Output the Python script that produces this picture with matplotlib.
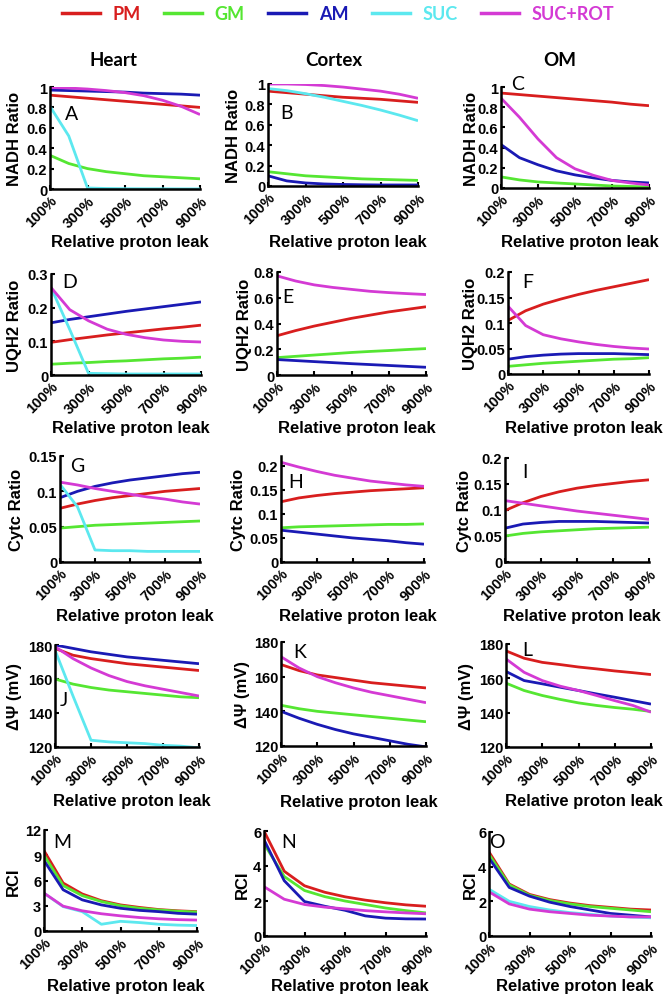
import matplotlib
matplotlib.use('Agg')
import matplotlib.pyplot as plt
from matplotlib.lines import Line2D
from matplotlib.ticker import FixedLocator, FuncFormatter
from matplotlib.font_manager import FontProperties

W, H = 672, 1003

leak = [100, 200, 300, 400, 500, 600, 700, 800, 900]
xtick_vals = [100, 300, 500, 700, 900]
xtick_labels = ['100%', '300%', '500%', '700%', '900%']
series = ['PM', 'GM', 'AM', 'SUC', 'SUC+ROT']
colors = {'PM': '#d81e1e', 'GM': '#55e632', 'AM': '#1a1ab4',
          'SUC': '#5ce8ef', 'SUC+ROT': '#d43ad4'}
tissues = ['Heart', 'Cortex', 'OM']

# ---- NADH ratio ----
heart_nadh = {
    'PM': [0.92, 0.905, 0.89, 0.875, 0.86, 0.845, 0.83, 0.815, 0.80],
    'GM': [0.33, 0.25, 0.20, 0.17, 0.15, 0.13, 0.12, 0.11, 0.10],
    'AM': [0.97, 0.965, 0.96, 0.955, 0.95, 0.94, 0.935, 0.93, 0.92],
    'SUC': [0.81, 0.52, 0.01, 0.005, 0.003, 0.002, 0.002, 0.001, 0.001],
    'SUC+ROT': [0.995, 0.99, 0.98, 0.965, 0.945, 0.915, 0.87, 0.81, 0.73],
}
cortex_nadh = {
    'PM': [0.93, 0.915, 0.90, 0.885, 0.87, 0.86, 0.85, 0.835, 0.82],
    'GM': [0.14, 0.12, 0.10, 0.09, 0.08, 0.07, 0.065, 0.06, 0.055],
    'AM': [0.10, 0.05, 0.03, 0.02, 0.015, 0.012, 0.01, 0.01, 0.01],
    'SUC': [0.955, 0.935, 0.905, 0.87, 0.83, 0.79, 0.745, 0.695, 0.64],
    'SUC+ROT': [1.0, 1.0, 0.995, 0.985, 0.97, 0.95, 0.93, 0.90, 0.86],
}
om_nadh = {
    'PM': [0.94, 0.925, 0.91, 0.895, 0.88, 0.865, 0.85, 0.83, 0.815],
    'GM': [0.11, 0.08, 0.06, 0.05, 0.04, 0.03, 0.02, 0.015, 0.01],
    'AM': [0.43, 0.30, 0.23, 0.17, 0.13, 0.10, 0.075, 0.06, 0.05],
    'SUC+ROT': [0.89, 0.70, 0.485, 0.30, 0.19, 0.125, 0.075, 0.05, 0.03],
}
# ---- UQH2 ratio ----
heart_uqh2 = {
    'PM': [0.097, 0.105, 0.112, 0.119, 0.125, 0.131, 0.137, 0.142, 0.148],
    'GM': [0.032, 0.035, 0.037, 0.040, 0.042, 0.045, 0.048, 0.050, 0.053],
    'AM': [0.155, 0.165, 0.173, 0.181, 0.189, 0.196, 0.203, 0.210, 0.217],
    'SUC': [0.26, 0.135, 0.005, 0.004, 0.003, 0.003, 0.003, 0.003, 0.003],
    'SUC+ROT': [0.26, 0.194, 0.161, 0.136, 0.121, 0.111, 0.104, 0.100, 0.098],
}
cortex_uqh2 = {
    'PM': [0.305, 0.345, 0.38, 0.41, 0.44, 0.465, 0.49, 0.51, 0.53],
    'GM': [0.135, 0.145, 0.155, 0.165, 0.175, 0.183, 0.19, 0.198, 0.205],
    'AM': [0.12, 0.112, 0.104, 0.096, 0.088, 0.081, 0.074, 0.067, 0.06],
    'SUC+ROT': [0.77, 0.73, 0.70, 0.68, 0.665, 0.65, 0.64, 0.632, 0.625],
}
om_uqh2 = {
    'PM': [0.105, 0.124, 0.137, 0.147, 0.156, 0.164, 0.171, 0.178, 0.185],
    'GM': [0.015, 0.018, 0.021, 0.023, 0.025, 0.027, 0.029, 0.030, 0.032],
    'AM': [0.029, 0.034, 0.037, 0.039, 0.040, 0.040, 0.040, 0.039, 0.038],
    'SUC+ROT': [0.133, 0.095, 0.077, 0.069, 0.063, 0.058, 0.054, 0.051, 0.049],
}
# ---- Cytc ratio ----
heart_cytc = {
    'PM': [0.076, 0.082, 0.087, 0.091, 0.094, 0.097, 0.100, 0.102, 0.104],
    'GM': [0.048, 0.050, 0.052, 0.053, 0.054, 0.055, 0.056, 0.057, 0.058],
    'AM': [0.091, 0.100, 0.107, 0.112, 0.116, 0.119, 0.122, 0.125, 0.127],
    'SUC': [0.110, 0.078, 0.017, 0.016, 0.016, 0.015, 0.015, 0.015, 0.015],
    'SUC+ROT': [0.113, 0.109, 0.104, 0.100, 0.096, 0.092, 0.089, 0.085, 0.082],
}
cortex_cytc = {
    'PM': [0.125, 0.133, 0.138, 0.142, 0.145, 0.148, 0.150, 0.152, 0.154],
    'GM': [0.071, 0.073, 0.074, 0.075, 0.076, 0.077, 0.078, 0.078, 0.079],
    'AM': [0.066, 0.062, 0.058, 0.054, 0.050, 0.047, 0.044, 0.040, 0.037],
    'SUC+ROT': [0.207, 0.197, 0.188, 0.180, 0.174, 0.168, 0.164, 0.160, 0.157],
}
om_cytc = {
    'PM': [0.099, 0.114, 0.126, 0.135, 0.142, 0.147, 0.151, 0.155, 0.158],
    'GM': [0.050, 0.055, 0.058, 0.060, 0.062, 0.064, 0.065, 0.066, 0.067],
    'AM': [0.065, 0.073, 0.076, 0.078, 0.078, 0.078, 0.077, 0.076, 0.075],
    'SUC+ROT': [0.118, 0.113, 0.108, 0.103, 0.098, 0.094, 0.090, 0.086, 0.082],
}
# ---- membrane potential (mV) ----
heart_dpsi = {
    'PM': [178, 174, 172, 170.5, 169, 168, 167, 166, 165],
    'GM': [160, 157, 155, 153.5, 152.5, 151.5, 150.5, 149.5, 149],
    'AM': [180, 178, 176, 174.5, 173, 172, 171, 170, 169],
    'SUC': [177, 150, 124, 123, 122.5, 122, 121, 120.5, 119.5],
    'SUC+ROT': [179, 172, 166.5, 162, 158.5, 156, 154, 152, 150],
}
cortex_dpsi = {
    'PM': [167, 163.5, 161, 159.5, 158, 156.5, 155.5, 154.5, 153.5],
    'GM': [143.5, 141.5, 140, 139, 138, 137, 136, 135, 134],
    'AM': [140, 136, 132.5, 129.5, 127, 125, 123, 121, 119.5],
    'SUC+ROT': [171.5, 165, 160, 156.5, 153.5, 151, 149, 147, 145],
}
om_dpsi = {
    'PM': [176, 171.7, 169.3, 168, 166.6, 165.5, 164.3, 163.3, 162.2],
    'GM': [157.2, 152.9, 150, 147.7, 145.7, 144.2, 143, 142, 140.7],
    'AM': [164, 158.7, 156.8, 154.8, 152.9, 150.9, 149, 147, 145],
    'SUC+ROT': [171.3, 163.5, 158.7, 155.4, 152.9, 150, 147, 144.2, 140.3],
}
# ---- RCI ----
heart_rci = {
    'PM': [9.55, 5.7, 4.4, 3.6, 3.1, 2.8, 2.55, 2.4, 2.3],
    'GM': [9.0, 5.4, 4.2, 3.5, 3.0, 2.7, 2.5, 2.35, 2.25],
    'AM': [8.37, 4.9, 3.7, 3.1, 2.7, 2.45, 2.3, 2.1, 2.0],
    'SUC': [4.5, 2.9, 2.3, 0.8, 1.15, 1.0, 0.8, 0.7, 0.65],
    'SUC+ROT': [4.5, 2.95, 2.4, 2.05, 1.8, 1.6, 1.45, 1.35, 1.3],
}
cortex_rci = {
    'PM': [6.0, 3.7, 2.87, 2.5, 2.24, 2.05, 1.9, 1.78, 1.7],
    'GM': [5.27, 3.4, 2.6, 2.25, 2.0, 1.8, 1.6, 1.45, 1.32],
    'AM': [5.5, 3.16, 1.97, 1.7, 1.47, 1.15, 1.02, 0.98, 0.97],
    'SUC+ROT': [2.82, 2.1, 1.8, 1.65, 1.55, 1.45, 1.38, 1.32, 1.27],
}
om_rci = {
    'PM': [4.85, 3.0, 2.4, 2.1, 1.9, 1.75, 1.65, 1.55, 1.5],
    'GM': [4.7, 2.95, 2.35, 2.05, 1.85, 1.7, 1.6, 1.5, 1.4],
    'AM': [4.5, 2.8, 2.3, 1.95, 1.7, 1.5, 1.3, 1.2, 1.1],
    'SUC': [2.7, 2.0, 1.7, 1.5, 1.35, 1.25, 1.15, 1.1, 1.05],
    'SUC+ROT': [2.55, 1.85, 1.55, 1.4, 1.3, 1.2, 1.15, 1.1, 1.1],
}

# panel: letter, data, (left, right, top, bottom) px, ylim, yticks, ylabel, ylabel x px, letter pos px
panels = [
    ('A', heart_nadh, (50, 200, 88, 190), (0, 1), [0, 0.2, 0.4, 0.6, 0.8, 1], 'NADH Ratio', 15, (72, 115)),
    ('B', cortex_nadh, (268, 418, 85, 187), (0, 1), [0, 0.2, 0.4, 0.6, 0.8, 1], 'NADH Ratio', 233, (286, 114)),
    ('C', om_nadh, (501, 649, 88, 189), (0, 1), [0, 0.2, 0.4, 0.6, 0.8, 1], 'NADH Ratio', 471, (518, 85)),
    ('D', heart_uqh2, (51, 201, 275, 376), (0, 0.3), [0, 0.1, 0.2, 0.3], 'UQH2 Ratio', 15, (70, 283)),
    ('E', cortex_uqh2, (277, 426, 273, 376), (0, 0.8), [0, 0.2, 0.4, 0.6, 0.8], 'UQH2 Ratio', 245, (288, 298)),
    ('F', om_uqh2, (508, 649, 273, 375), (0, 0.2), [0, 0.05, 0.1, 0.15, 0.2], 'UQH2 Ratio', 470, (528, 283)),
    ('G', heart_cytc, (60, 200, 457, 563), (0, 0.15), [0, 0.05, 0.1, 0.15], 'Cytc Ratio', 17, (77, 467)),
    ('H', cortex_cytc, (281, 424, 457, 563), (0, 0.22), [0, 0.05, 0.1, 0.15, 0.2], 'Cytc Ratio', 239, (296, 483)),
    ('I', om_cytc, (505, 649, 459, 563), (0, 0.2), [0, 0.05, 0.1, 0.15, 0.2], 'Cytc Ratio', 464, (525, 473)),
    ('J', heart_dpsi, (55, 199, 646, 748), (120, 180), [120, 140, 160, 180], 'ΔΨ (mV)', 15, (64, 700)),
    ('K', cortex_dpsi, (281, 426, 643, 747), (120, 180), [120, 140, 160, 180], 'ΔΨ (mV)', 242, (300, 652)),
    ('L', om_dpsi, (506, 651, 645, 748), (120, 180), [120, 140, 160, 180], 'ΔΨ (mV)', 466, (527, 650)),
    ('M', heart_rci, (44, 197, 831, 932), (0, 12), [0, 3, 6, 9, 12], 'RCI', 13, (62, 843)),
    ('N', cortex_rci, (264, 426, 832, 937), (0, 6), [0, 2, 4, 6], 'RCI', 242, (289, 843)),
    ('O', om_rci, (489, 651, 833, 937), (0, 6), [0, 2, 4, 6], 'RCI', 470, (497, 842)),
]
xlabel_y = [243, 428, 616, 802, 987]

fig = plt.figure(figsize=(W / 100, H / 100), dpi=100)
tick_font = dict(family=['Liberation Sans', 'DejaVu Sans'], weight='bold', size=10.5)
lab_font = dict(family=['Liberation Sans', 'DejaVu Sans'], weight='bold', size=12)

for i, (letter, data, (l, r, t, b), ylim, yticks, ylabel, ylx, (lx, ly)) in enumerate(panels):
    ax = fig.add_axes([l / W, 1 - b / H, (r - l) / W, (b - t) / H])
    for s in series:
        if s in data:
            ax.plot(leak, data[s], color=colors[s], lw=2.0, solid_capstyle='butt')
    ax.set_xlim(100, 900)
    ax.set_ylim(*ylim)
    for sp in ['top', 'right']:
        ax.spines[sp].set_visible(False)
    for sp in ['left', 'bottom']:
        ax.spines[sp].set_linewidth(1.8)
    ax.xaxis.set_major_locator(FixedLocator(xtick_vals))
    ax.set_xticklabels(xtick_labels, rotation=45, ha='right', va='top',
                       rotation_mode='anchor', **tick_font)
    ax.yaxis.set_major_locator(FixedLocator(yticks))
    ax.yaxis.set_major_formatter(FuncFormatter(lambda v, p: '%g' % v))
    for tl in ax.get_yticklabels():
        tl.set_fontproperties(FontProperties(**tick_font))
    ax.tick_params(direction='in', length=3, width=1.5, pad=2)
    ax.tick_params(axis='x', pad=3)
    ax.set_ylabel(ylabel, **lab_font)
    ax.yaxis.set_label_coords((ylx - l) / (r - l), 0.5)
    ax.yaxis.label.set_va('center')
    ax.set_xlabel('Relative proton leak', **lab_font)
    ax.xaxis.set_label_coords(((l + r) / 2 + 5 - l) / (r - l), (b - xlabel_y[i // 3]) / (b - t))
    ax.xaxis.label.set_va('center')
    fig.text(lx / W, 1 - ly / H, letter, family='Lato', size=14, ha='center', va='center')

title_x = [113, 334, 560]
for name, tx in zip(tissues, title_x):
    fig.text(tx / W, 1 - 61 / H, name, family='Lato', weight='bold', size=13.5,
             ha='center', va='center')

handles = [Line2D([], [], color=colors[s], lw=2.5) for s in series]
fig.legend(handles, series, loc='center', bbox_to_anchor=(338 / W, 1 - 15 / H), ncol=5,
           frameon=False, labelcolor='linecolor', handlelength=2.1, handletextpad=0.7,
           columnspacing=1.3, borderpad=0, prop=dict(family='Lato', weight='bold', size=13))

fig.savefig('out.png', dpi=100)
